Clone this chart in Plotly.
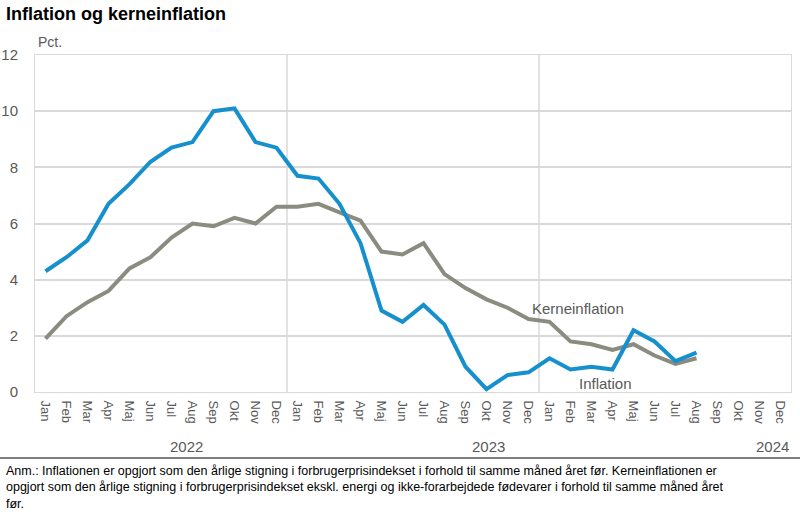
import plotly.graph_objects as go

months = ["Jan", "Feb", "Mar", "Apr", "Maj", "Jun", "Jul", "Aug", "Sep", "Okt", "Nov", "Dec"] * 3
years = ["2022", "2023", "2024"]
inflation = [4.3, 4.8, 5.4, 6.7, 7.4, 8.2, 8.7, 8.9, 10.0, 10.1, 8.9, 8.7,
             7.7, 7.6, 6.7, 5.3, 2.9, 2.5, 3.1, 2.4, 0.9, 0.1, 0.6, 0.7,
             1.2, 0.8, 0.9, 0.8, 2.2, 1.8, 1.1, 1.4]
kerneinflation = [1.9, 2.7, 3.2, 3.6, 4.4, 4.8, 5.5, 6.0, 5.9, 6.2, 6.0, 6.6,
                  6.6, 6.7, 6.4, 6.1, 5.0, 4.9, 5.3, 4.2, 3.7, 3.3, 3.0, 2.6,
                  2.5, 1.8, 1.7, 1.5, 1.7, 1.3, 1.0, 1.2]
y_ticks = [0, 2, 4, 6, 8, 10, 12]

BLUE = "#1590CD"
GRAY = "#8C8B7F"
TXT = "#595959"
FONT = "Liberation Sans, Arial, sans-serif"

fig = go.Figure()
fig.add_trace(go.Scatter(x=list(range(len(kerneinflation))), y=kerneinflation, mode="lines",
                         line=dict(color=GRAY, width=4), name="Kerneinflation"))
fig.add_trace(go.Scatter(x=list(range(len(inflation))), y=inflation, mode="lines",
                         line=dict(color=BLUE, width=4), name="Inflation"))

fig.update_layout(
    width=800, height=512,
    margin=dict(l=35, r=9, t=55, b=120, autoexpand=False),
    paper_bgcolor="white", plot_bgcolor="white",
    showlegend=False,
    font=dict(family=FONT, color=TXT),
)
fig.update_xaxes(
    range=[-0.5, 35.5], automargin=False,
    tickvals=list(range(36)), ticktext=months,
    tickangle=90, tickfont=dict(size=13, family=FONT, color=TXT),
    ticks="outside", ticklen=5, tickcolor="rgba(0,0,0,0)",
    showgrid=False, zeroline=False,
    showline=True, linecolor="#D9D9D9", linewidth=1, mirror=True,
)
fig.update_yaxes(
    range=[0, 12], tickvals=y_ticks, automargin=False,
    tickfont=dict(size=15, family=FONT, color=TXT),
    ticks="outside", ticklen=13, tickcolor="rgba(0,0,0,0)",
    showgrid=True, gridcolor="#D9D9D9", gridwidth=1.5, zeroline=False,
    showline=True, linecolor="#D9D9D9", linewidth=1, mirror=True,
)

# year separators
for xb in [11.5, 23.5]:
    fig.add_shape(type="line", xref="x", yref="paper", x0=xb, x1=xb, y0=0, y1=1,
                  line=dict(color="#D9D9D9", width=1.5), layer="below")

# separator line above footnote
fig.add_shape(type="line", xref="paper", yref="paper", x0=-35/756, x1=765/756,
              y0=-66/337, y1=-66/337, line=dict(color="#7F7F7F", width=2))

ann = []
ann.append(dict(text="<b>Inflation og kerneinflation</b>", xref="paper", yref="paper",
                x=-31/756, y=(392-14)/337, xanchor="left", yanchor="middle",
                showarrow=False, font=dict(family=FONT, size=18, color="black")))
ann.append(dict(text="Pct.", xref="paper", yref="paper", x=1/756, y=(392-42)/337,
                xanchor="left", yanchor="middle", showarrow=False,
                font=dict(family=FONT, size=14, color=TXT)))
for yr, xp in zip(years, [6.7, 21.1, 34.6]):
    ann.append(dict(text=yr, xref="x", yref="paper", x=xp, y=(392-446)/337,
                    xanchor="center", yanchor="middle", showarrow=False,
                    font=dict(family=FONT, size=15, color=TXT)))
ann.append(dict(text="Kerneinflation", xref="x", yref="y", x=25.38, y=2.99,
                showarrow=False, font=dict(family=FONT, size=15, color=TXT)))
ann.append(dict(text="Inflation", xref="x", yref="y", x=26.67, y=0.32,
                showarrow=False, font=dict(family=FONT, size=15, color=TXT)))
footnote = ("Anm.: Inflationen er opgjort som den årlige stigning i forbrugerprisindekset i forhold til samme måned året før. Kerneinflationen er<br>"
            "opgjort som den årlige stigning i forbrugerprisindekset ekskl. energi og ikke-forarbejdede fødevarer i forhold til samme måned året<br>"
            "før.")
ann.append(dict(text=footnote, xref="paper", yref="paper", x=-31/756, y=(392-462)/337,
                xanchor="left", yanchor="top", align="left", showarrow=False,
                font=dict(family=FONT, size=12.5, color="black")))
fig.update_layout(annotations=ann)

fig.write_html("out.html", config={"displayModeBar": False},
               post_script="document.body.style.margin='0';document.body.style.padding='0';")
